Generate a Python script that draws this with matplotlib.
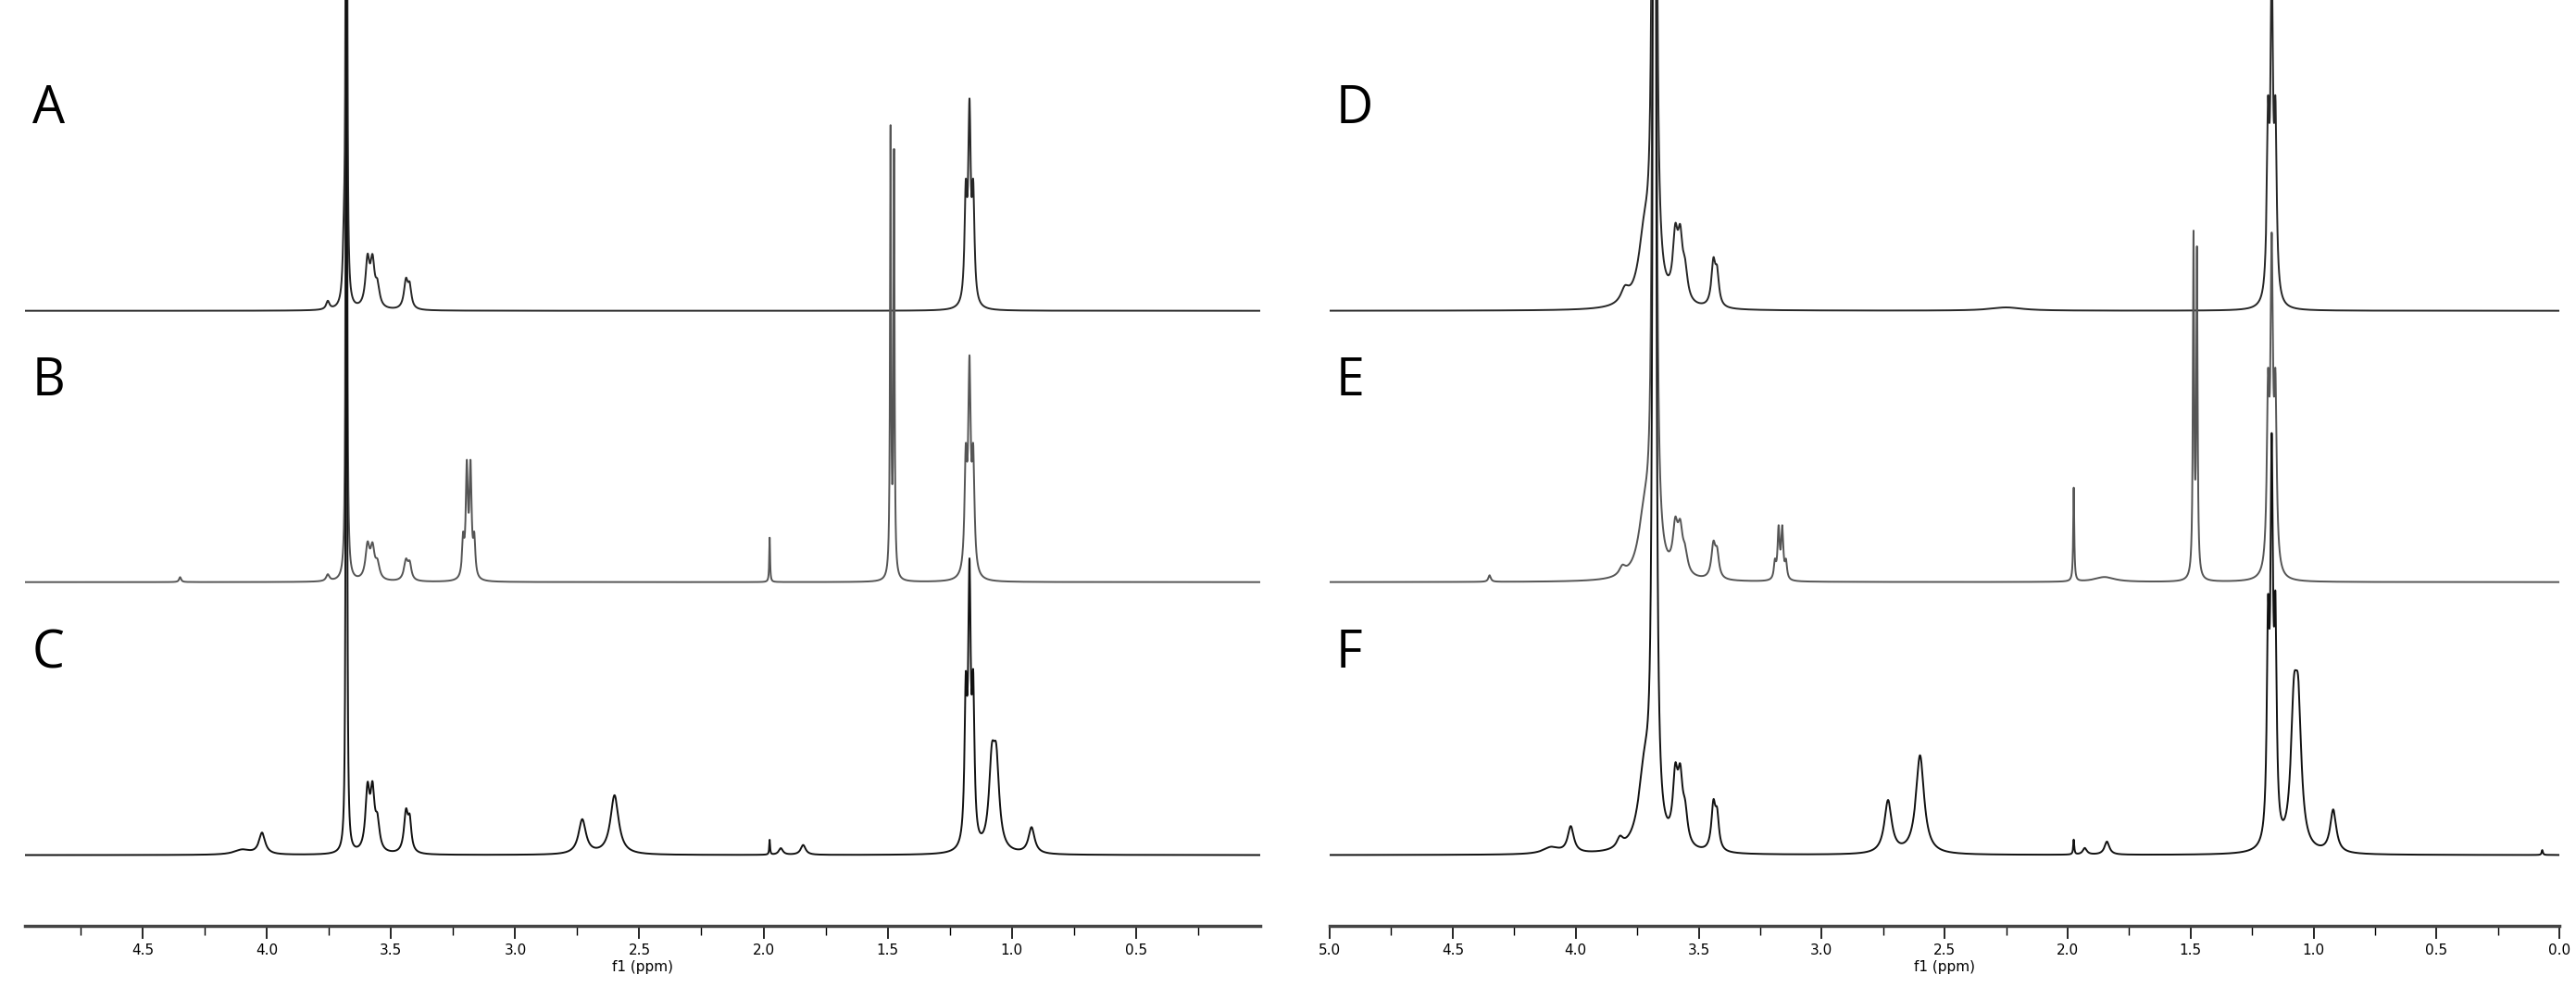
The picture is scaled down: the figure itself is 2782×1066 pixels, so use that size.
import numpy as np
import matplotlib
matplotlib.use("Agg")
import matplotlib.pyplot as plt

# ---------------------------------------------------------------------------
# Peak tables: (shift ppm, height, half-width ppm)
# heights are in arbitrary units (~display pixels above baseline)
# ---------------------------------------------------------------------------
peaks_A = [(3.755, 5, 0.008), (3.680, 1600, 0.0015), (3.690, 30, 0.006),
           (3.595, 28, 0.010), (3.575, 26, 0.010), (3.555, 12, 0.010),
           (3.440, 17, 0.010), (3.425, 12, 0.008),
           (1.185, 62, 0.006), (1.170, 112, 0.006), (1.155, 62, 0.006)]
peaks_B = [(4.350, 3, 0.005), (3.755, 4, 0.008), (3.680, 1600, 0.0015),
           (3.595, 20, 0.010), (3.575, 18, 0.010), (3.555, 9, 0.010),
           (3.440, 12, 0.010), (3.425, 9, 0.008),
           (3.210, 22, 0.005), (3.195, 65, 0.005), (3.180, 65, 0.005), (3.165, 22, 0.005),
           (1.975, 27, 0.002),
           (1.488, 270, 0.0025), (1.474, 255, 0.0025),
           (1.185, 65, 0.006), (1.170, 120, 0.006), (1.155, 65, 0.006)]
peaks_C = [(4.020, 13, 0.015), (4.10, 3, 0.04), (3.680, 1600, 0.0015),
           (3.595, 36, 0.010), (3.575, 34, 0.010), (3.555, 16, 0.010),
           (3.440, 24, 0.010), (3.425, 17, 0.008),
           (2.730, 21, 0.018), (2.600, 36, 0.02),
           (1.975, 9, 0.002), (1.930, 4, 0.01), (1.840, 6, 0.012),
           (1.185, 85, 0.006), (1.170, 155, 0.006), (1.155, 85, 0.006),
           (1.080, 48, 0.014), (1.062, 48, 0.014), (0.920, 16, 0.015)]

peaks_D = [(3.800, 8, 0.02), (3.680, 2000, 0.004), (3.72, 40, 0.03),
           (3.595, 36, 0.012), (3.575, 34, 0.012), (3.555, 16, 0.012),
           (3.440, 26, 0.010), (3.425, 18, 0.009), (2.25, 2, 0.08),
           (1.185, 100, 0.006), (1.170, 190, 0.006), (1.155, 100, 0.006)]
peaks_E = [(4.350, 4, 0.006), (3.810, 5, 0.015), (3.680, 2000, 0.004), (3.72, 35, 0.03),
           (3.595, 26, 0.012), (3.575, 24, 0.012), (3.555, 11, 0.012),
           (3.440, 20, 0.010), (3.425, 14, 0.009),
           (3.190, 10, 0.005), (3.175, 30, 0.005), (3.160, 30, 0.005), (3.145, 10, 0.005),
           (1.975, 57, 0.0025), (1.85, 3, 0.05),
           (1.488, 205, 0.003), (1.474, 195, 0.003),
           (1.185, 100, 0.006), (1.170, 185, 0.006), (1.155, 100, 0.006)]
peaks_F = [(4.020, 16, 0.015), (4.10, 4, 0.04), (3.820, 6, 0.015),
           (3.680, 2000, 0.004), (3.72, 45, 0.03),
           (3.595, 38, 0.012), (3.575, 36, 0.012), (3.555, 17, 0.012),
           (3.440, 27, 0.010), (3.425, 19, 0.009),
           (2.730, 32, 0.018), (2.600, 60, 0.02),
           (1.975, 9, 0.0025), (1.930, 4, 0.01), (1.840, 8, 0.012),
           (1.185, 120, 0.006), (1.170, 220, 0.006), (1.155, 120, 0.006),
           (1.080, 75, 0.015), (1.062, 75, 0.015), (0.920, 26, 0.015),
           (0.070, 3, 0.003)]

labels_left = ["A", "B", "C"]
labels_right = ["D", "E", "F"]
colors = ["#262626", "#555555", "#111111"]
baselines = [374, 209, 43]          # trace offsets, same units as heights
tick_major = [5.0, 4.5, 4.0, 3.5, 3.0, 2.5, 2.0, 1.5, 1.0, 0.5, 0.0]

ppm = np.linspace(-0.05, 5.05, 40000)


def spectrum(peaks):
    y = np.zeros_like(ppm)
    for c, h, w in peaks:
        y += h / (1 + ((ppm - c) / w) ** 2)
    return y


fig = plt.figure(figsize=(27.82, 10.66), dpi=100)
panels = [
    (fig.add_axes([0.0097, 0.062, 0.4794, 0.938]), [peaks_A, peaks_B, peaks_C],
     labels_left, (4.975, 0.0), False),
    (fig.add_axes([0.5162, 0.062, 0.4774, 0.938]), [peaks_D, peaks_E, peaks_F],
     labels_right, (5.0, 0.0), True),
]

for ax, sets, labs, xl, end_labels in panels:
    for pk, base, col, lab in zip(sets, baselines, colors, labs):
        ax.plot(ppm, spectrum(pk) + base, color=col, lw=1.4)
        ax.text(0.006 if not end_labels else 0.005, (base + 122) / 563, lab,
                transform=ax.transAxes, fontsize=40, family="Open Sans",
                va="center", ha="left")
    ax.set_xlim(*xl)
    ax.set_ylim(0, 563)
    ticks = [t for t in tick_major if (end_labels or 0.2 < t < 4.8)]
    ax.set_xticks(ticks)
    ax.set_xticklabels([f"{t:.1f}" for t in ticks], fontsize=11)
    ax.set_xticks(np.arange(0.25, 5.0, 0.5), minor=True)
    ax.tick_params(axis="x", which="major", length=10, width=1.2, pad=4)
    ax.tick_params(axis="x", which="minor", length=7, width=1.0)
    ax.set_yticks([])
    for s in ("top", "left", "right"):
        ax.spines[s].set_visible(False)
    ax.spines["bottom"].set_linewidth(2.5)
    ax.spines["bottom"].set_color("#444444")
    ax.set_xlabel("f1 (ppm)", fontsize=11, labelpad=2)

fig.savefig("out.png", dpi=100, facecolor="white")
